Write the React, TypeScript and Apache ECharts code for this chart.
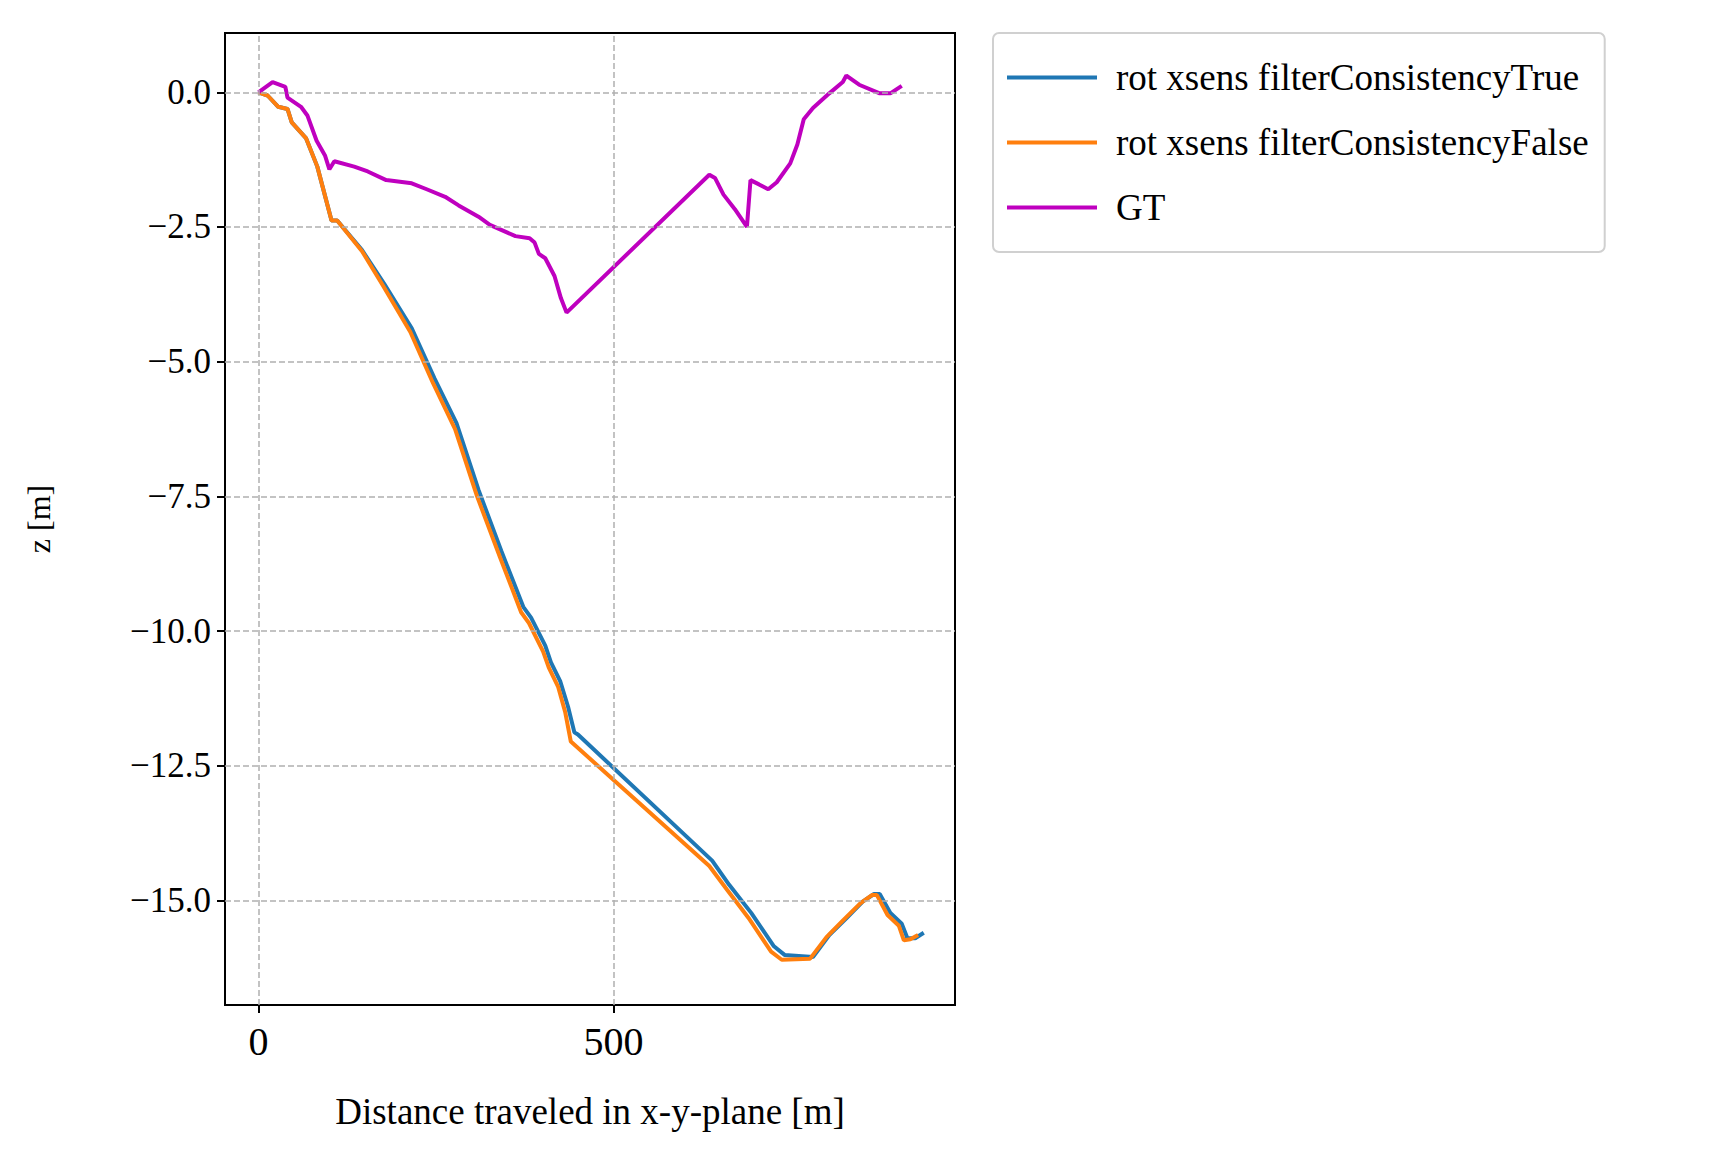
import React, { useEffect, useRef } from 'react';
import * as echarts from 'echarts';

const gtData: number[][] = [
  [0, 0], [20, 0.19], [38, 0.1], [41, -0.1], [60, -0.27], [69, -0.43], [82, -0.9], [94, -1.18],
  [100, -1.43], [107, -1.28], [135, -1.38], [154, -1.47], [180, -1.63], [216, -1.69], [237, -1.8],
  [263, -1.94], [282, -2.1], [310, -2.31], [326, -2.46], [362, -2.67], [382, -2.71], [389, -2.79],
  [395, -3.0], [404, -3.08], [417, -3.41], [426, -3.82], [434, -4.09], [635, -1.53], [643, -1.59],
  [655, -1.9], [671, -2.17], [688, -2.5], [693, -1.63], [705, -1.71], [718, -1.8], [730, -1.67],
  [749, -1.32], [759, -0.97], [768, -0.5], [781, -0.29], [804, -0.02], [823, 0.19], [828, 0.31],
  [846, 0.14], [875, -0.02], [890, -0.02], [906, 0.12],
];

const trueData: number[][] = [
  [0, 0], [13, -0.06], [28, -0.27], [41, -0.31], [47, -0.56], [67, -0.85], [83, -1.38], [103, -2.38],
  [111, -2.38], [146, -2.93], [177, -3.55], [216, -4.38], [248, -5.31], [279, -6.14], [310, -7.38],
  [342, -8.51], [373, -9.55], [384, -9.75], [404, -10.27], [412, -10.58], [425, -10.93], [436, -11.4],
  [445, -11.88], [450, -11.92], [639, -14.26], [663, -14.71], [694, -15.23], [726, -15.85],
  [741, -16.01], [781, -16.05], [804, -15.64], [828, -15.33], [851, -15.02], [867, -14.88],
  [875, -14.88], [890, -15.23], [906, -15.43], [914, -15.7], [925, -15.7], [937, -15.6],
];

const falseData: number[][] = [
  [0, 0], [13, -0.06], [28, -0.27], [41, -0.31], [47, -0.56], [67, -0.85], [83, -1.38], [103, -2.38],
  [111, -2.38], [146, -2.95], [176, -3.6], [214, -4.45], [246, -5.4], [277, -6.25], [308, -7.5],
  [340, -8.62], [370, -9.65], [381, -9.85], [401, -10.38], [409, -10.68], [422, -11.03], [432, -11.5],
  [440, -12.05], [635, -14.36], [660, -14.8], [690, -15.32], [722, -15.95], [737, -16.1],
  [777, -16.08], [800, -15.68], [824, -15.36], [848, -15.05], [864, -14.9], [871, -14.9],
  [886, -15.27], [902, -15.47], [909, -15.74], [918, -15.72], [929, -15.64],
];

const xTicks = [0, 500];
const yTicks = [0, -2.5, -5, -7.5, -10, -12.5, -15];

const font = 'Liberation Serif';

const App: React.FC = () => {
  const chartRef = useRef<HTMLDivElement>(null);

  useEffect(() => {
    if (!chartRef.current) return;
    const chart = echarts.init(chartRef.current, undefined, { renderer: 'svg' });
    const tick = { show: true, length: 8, lineStyle: { color: '#000', width: 2 } };
    const gridLine = { color: '#b0b0b0', type: 'dashed' as const, width: 1.5 };
    chart.setOption({
      animation: false,
      textStyle: { fontFamily: font },
      grid: { left: 217, top: 25, width: 730, height: 972, show: true, borderColor: '#000', borderWidth: 2 },
      legend: {
        left: 985, top: 25, orient: 'vertical', itemWidth: 90, itemHeight: 4, itemGap: 28,
        padding: [26, 16, 26, 14], borderColor: '#d0d0d0', borderWidth: 2, borderRadius: 6,
        textStyle: { fontFamily: font, fontSize: 37, color: '#000', padding: [0, 0, 0, 14] },
        icon: 'rect',
        data: ['rot xsens filterConsistencyTrue', 'rot xsens filterConsistencyFalse', 'GT'],
      },
      xAxis: {
        type: 'value', min: -47, max: 981,
        name: 'Distance traveled in x-y-plane [m]', nameLocation: 'middle', nameGap: 88,
        nameTextStyle: { fontFamily: font, fontSize: 37, color: '#000' },
        axisLine: { show: false, onZero: false },
        axisTick: { ...tick, customValues: xTicks },
        axisLabel: { fontFamily: font, fontSize: 40, color: '#000', margin: 16, customValues: xTicks },
        splitLine: { show: false },
      },
      yAxis: {
        type: 'value', min: -16.94, max: 1.1,
        name: 'z [m]', nameLocation: 'middle', nameGap: 170,
        nameTextStyle: { fontFamily: font, fontSize: 32, color: '#000' },
        axisLine: { show: false, onZero: false },
        axisTick: { ...tick, customValues: yTicks },
        axisLabel: { fontFamily: font, fontSize: 35, color: '#000', margin: 14, customValues: yTicks,
          formatter: (v: number) => (v < 0 ? '\u2212' + (-v).toFixed(1) : v.toFixed(1)) },
        splitLine: { show: false },
      },
      series: [
        { name: 'grid', type: 'line', data: [], silent: true,
          markLine: { silent: true, symbol: 'none', label: { show: false }, lineStyle: gridLine,
            data: [...xTicks.map((x) => ({ xAxis: x })), ...yTicks.map((y) => ({ yAxis: y }))] } },
        { name: 'rot xsens filterConsistencyTrue', type: 'line', data: trueData, showSymbol: false,
          lineStyle: { color: '#1f77b4', width: 4 }, itemStyle: { color: '#1f77b4' } },
        { name: 'rot xsens filterConsistencyFalse', type: 'line', data: falseData, showSymbol: false,
          lineStyle: { color: '#ff7f0e', width: 4 }, itemStyle: { color: '#ff7f0e' } },
        { name: 'GT', type: 'line', data: gtData, showSymbol: false,
          lineStyle: { color: '#bf00bf', width: 4 }, itemStyle: { color: '#bf00bf' } },
      ],
    });
    return () => chart.dispose();
  }, []);

  return <div ref={chartRef} style={{ width: 1720, height: 1149 }} />;
};

export default App;
